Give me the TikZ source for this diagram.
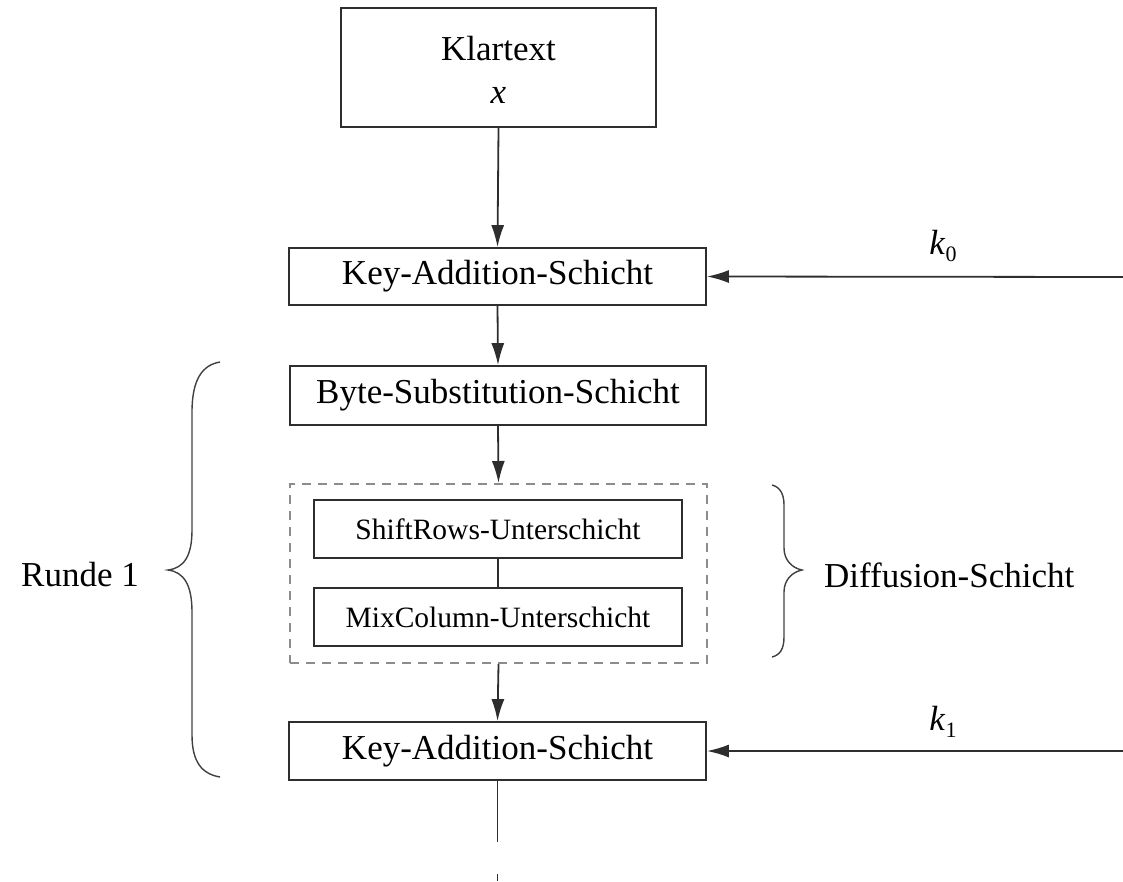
\documentclass[tikz,border=0pt]{standalone}
\usepackage{fontspec}
\setmainfont{Liberation Serif}
\usetikzlibrary{arrows.meta}
\begin{document}
\begin{tikzpicture}[x=1pt,y=-1pt,
  line/.style={draw=black!82,line width=1.8pt},
  arr/.style={line,-{Latex[length=22pt,width=13pt]}},
  layer/.style={line,rectangle,inner sep=0pt,font=\fontsize{35}{46}\selectfont},
  sublayer/.style={layer,minimum width=368pt,minimum height=58pt,font=\fontsize{29.5}{36}\selectfont},
  group/.style={draw=black!45,line width=2pt,dash pattern=on 9pt off 7pt,rectangle,inner sep=0pt},
  brace/.style={draw=black!75,line width=1.4pt},
  lbl/.style={font=\fontsize{35}{42}\selectfont,inner sep=0pt},
  key/.style={font=\fontsize{35}{42}\selectfont,inner sep=0pt}]
\useasboundingbox (0,0) rectangle (1123,881);

% main chain of layers; the plaintext box keeps its two lines at fixed baselines
\node[layer,minimum width=315pt,minimum height=119pt] (plain) at (498.5,67.5)
  {\raisebox{7.5pt}[0pt][0pt]{\begin{tabular}[t]{@{}c@{}}Klartext\\[-3pt]\textit{x}\end{tabular}}};
\node[layer,minimum width=417pt,minimum height=57pt] (ka0) at (497.5,276.5) {Key-Addition-Schicht};
\node[layer,minimum width=416pt,minimum height=59pt] (bs) at (498,395.5) {Byte-Substitution-Schicht};
\node[group,minimum width=417pt,minimum height=179pt] (diff) at (498.5,573.5) {};
\node[sublayer] (sr) at (498,529) {ShiftRows-Unterschicht};
\node[sublayer] (mc) at (498,617) {MixColumn-Unterschicht};
\node[layer,minimum width=417pt,minimum height=58pt] (ka1) at (497.5,751) {Key-Addition-Schicht};

% round keys entering from the right
\coordinate (k0in) at (1123,277);
\coordinate (k1in) at (1123,751);
\node[key] (k0) at (943,246) {\textit{k}\raisebox{-7pt}{\fontsize{22}{22}\selectfont 0}};
\node[key] (k1) at (943,722) {\textit{k}\raisebox{-7pt}{\fontsize{22}{22}\selectfont 1}};

% data flow
\draw[arr] (plain.south) -- (ka0.north);
\draw[arr] (ka0.south) -- (bs.north);
\draw[arr] (bs.south) -- (diff.north);
\draw[line] (sr.south) -- (mc.north);
\draw[arr] (diff.south) -- (ka1.north);
\draw[arr] (k0in) -- (ka0.east);
\draw[arr] (k1in) -- (ka1.east);
\coordinate (out) at (497.5,842);
\coordinate (more) at (497.5,874);
\coordinate (moreend) at (497.5,881);
\draw[line] (ka1.south) -- (out);
\draw[line] (more) -- (moreend);

% braces and their labels
\draw[brace] (220,362) .. controls (202,365) and (192,380) .. (192,412)
  -- (192,530) .. controls (192,556) and (184,568) .. (168,570)
  .. controls (184,572) and (192,585) .. (192,612)
  -- (192,735) .. controls (192,762) and (202,774) .. (220,777);
\node[lbl] (round) at (80,575) {Runde 1};
\draw[brace] (772,485) .. controls (780,487) and (784,494) .. (784,505)
  -- (784,548) .. controls (784,560) and (792,568) .. (802,570)
  .. controls (792,572) and (784,580) .. (784,592)
  -- (784,637) .. controls (784,649) and (780,655) .. (772,657);
\node[lbl,anchor=west] (difflbl) at (824,575) {Diffusion-Schicht};
\end{tikzpicture}
\end{document}
